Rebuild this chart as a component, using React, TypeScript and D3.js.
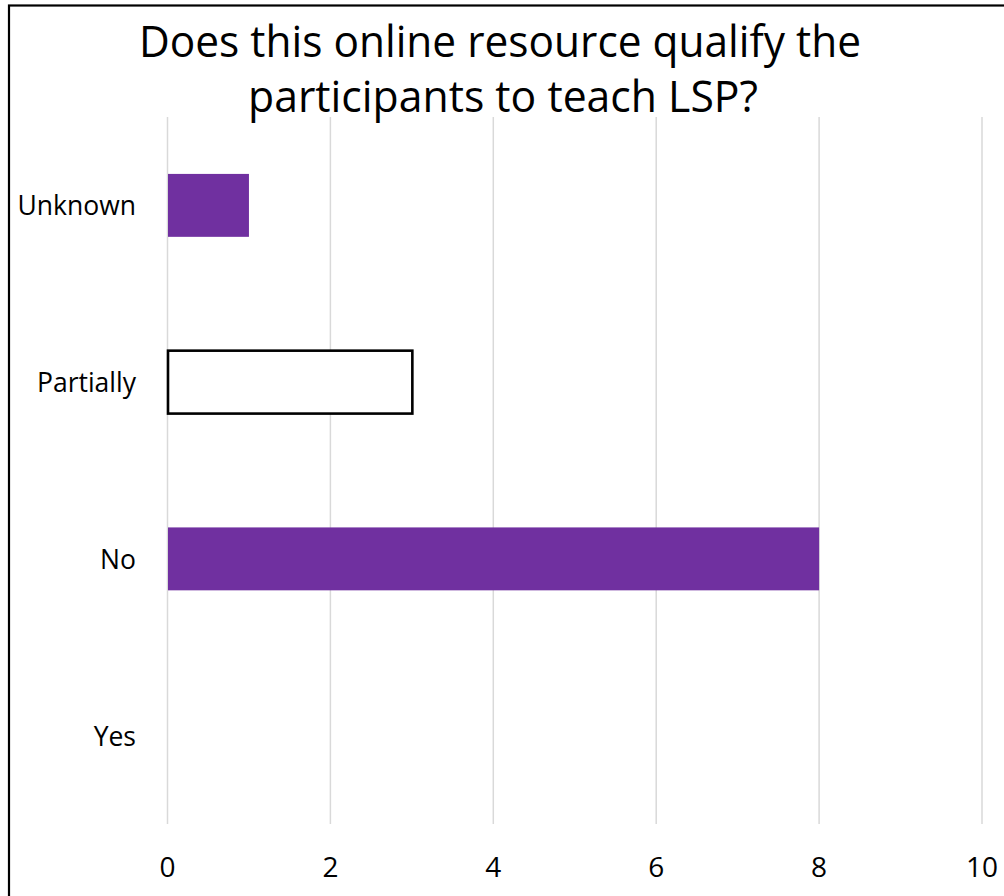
import React from "react";
import * as d3 from "d3";

const categories = ["Yes", "No", "Partially", "Unknown"];
const values = [0, 8, 3, 1];
const xTicks = [0, 2, 4, 6, 8, 10];
const titleLines = ["Does this online resource qualify the", "participants to teach LSP?"];

const W = 1004;
const H = 896;
const FONT = "'Open Sans', 'Noto Sans', sans-serif";
const PURPLE = "#7030A0";

export default function App() {
  const x = d3.scaleLinear().domain([0, 10]).range([167.5, 982]);
  const y = d3
    .scaleBand<string>()
    .domain([...categories].reverse())
    .range([117, 824])
    .paddingInner(0.644)
    .paddingOuter(0.322);
  const catCenter = (c: string) => (y(c) as number) + y.bandwidth() / 2;

  return (
    <svg
      width={W}
      height={H}
      style={{ position: "absolute", left: 0, top: 0, background: "#fff" }}
    >
      <rect x={0} y={0} width={W} height={H} fill="#fff" />
      {/* frame */}
      <rect x={9} y={5.5} width={1020} height={920} fill="none" stroke="#000" strokeWidth={2.2} />
      {/* title */}
      {titleLines.map((t, i) => (
        <text
          key={t}
          x={i === 0 ? 500 : 503}
          y={i === 0 ? 57 : 112}
          textAnchor="middle"
          fontFamily={FONT}
          fontSize={44}
          fill="#000"
          textLength={i === 0 ? 722 : 510}
          lengthAdjust="spacingAndGlyphs"
        >
          {t}
        </text>
      ))}
      {/* gridlines */}
      {xTicks.map((t) => (
        <line
          key={t}
          x1={x(t)}
          x2={x(t)}
          y1={117}
          y2={824}
          stroke="#d9d9d9"
          strokeWidth={1.5}
        />
      ))}
      {/* bars */}
      {categories.map((c, i) => {
        const v = values[i];
        if (v <= 0) return null;
        const hollow = c === "Partially";
        return (
          <rect
            key={c}
            x={x(0) + 0.5}
            y={y(c) as number}
            width={x(v) - x(0) - (hollow ? 0 : 0.5)}
            height={y.bandwidth()}
            fill={hollow ? "#fff" : PURPLE}
            stroke={hollow ? "#000" : "none"}
            strokeWidth={hollow ? 2.6 : 0}
          />
        );
      })}
      {/* y labels */}
      {categories.map((c) => (
        <text
          key={c}
          x={136}
          y={catCenter(c) + 10}
          textAnchor="end"
          fontFamily={FONT}
          fontSize={26.5}
          fill="#000"
        >
          {c}
        </text>
      ))}
      {/* x tick labels */}
      {xTicks.map((t) => (
        <text
          key={t}
          x={x(t)}
          y={877}
          textAnchor="middle"
          fontFamily={FONT}
          fontSize={28}
          fill="#000"
        >
          {d3.format("d")(t)}
        </text>
      ))}
    </svg>
  );
}
